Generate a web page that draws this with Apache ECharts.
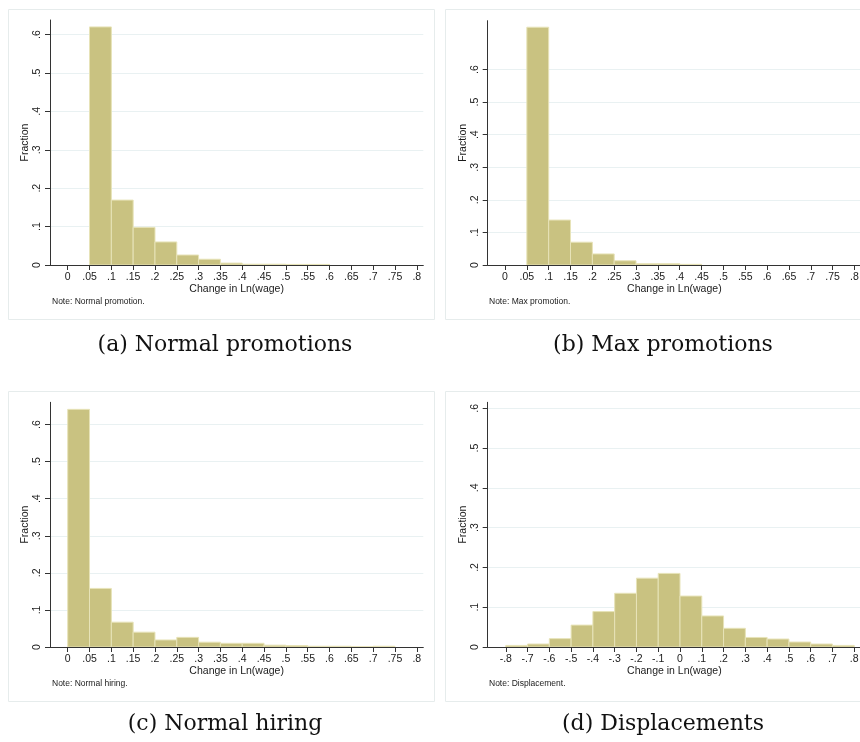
<!DOCTYPE html>
<html><head><meta charset="utf-8">
<script src="https://cdn.jsdelivr.net/npm/echarts@6/dist/echarts.min.js"></script>
<style>html,body{margin:0;padding:0;background:#fff}#c{width:860px;height:742px}</style>
</head><body><div id="c"></div>
<script>
// ---------- data ----------
// (a) Normal promotions
const binWidthA = 0.05;
const leftEdgesA = [0.05, 0.10, 0.15, 0.20, 0.25, 0.30, 0.35, 0.40, 0.45, 0.50, 0.55];
const fractionA  = [0.620, 0.169, 0.098, 0.060, 0.026, 0.015, 0.005, 0.002, 0.002, 0.0015, 0.0015];
// (b) Max promotions
const binWidthB = 0.05;
const leftEdgesB = [0.05, 0.10, 0.15, 0.20, 0.25, 0.30, 0.35, 0.40];
const fractionB  = [0.730, 0.138, 0.070, 0.034, 0.013, 0.004, 0.004, 0.002];
// (c) Normal hiring
const binWidthC = 0.05;
const leftEdgesC = [0.00, 0.05, 0.10, 0.15, 0.20, 0.25, 0.30, 0.35, 0.40, 0.45, 0.50, 0.55, 0.60, 0.65, 0.70];
const fractionC  = [0.641, 0.158, 0.067, 0.040, 0.019, 0.026, 0.013, 0.010, 0.010, 0.005, 0.004, 0.002, 0.002, 0.001, 0.002];
// (d) Displacements
const binWidthD = 0.1;
const leftEdgesD = [-0.8, -0.7, -0.6, -0.5, -0.4, -0.3, -0.2, -0.1, 0.0, 0.1, 0.2, 0.3, 0.4, 0.5, 0.6, 0.7];
const fractionD  = [0.004, 0.0075, 0.021, 0.055, 0.089, 0.135, 0.173, 0.185, 0.128, 0.078, 0.047, 0.024, 0.020, 0.0125, 0.0075, 0.004];

// tick values
const xTicksPos = [0, 0.05, 0.1, 0.15, 0.2, 0.25, 0.3, 0.35, 0.4, 0.45, 0.5, 0.55, 0.6, 0.65, 0.7, 0.75, 0.8];
const xTicksD   = [-0.8, -0.7, -0.6, -0.5, -0.4, -0.3, -0.2, -0.1, 0, 0.1, 0.2, 0.3, 0.4, 0.5, 0.6, 0.7, 0.8];
const yTicks    = [0, 0.1, 0.2, 0.3, 0.4, 0.5, 0.6];

const notes    = ['Note: Normal promotion.', 'Note: Max promotion.', 'Note: Normal hiring.', 'Note: Displacement.'];
const captions = ['(a) Normal promotions', '(b) Max promotions', '(c) Normal hiring', '(d) Displacements'];
const xTitle = 'Change in Ln(wage)';
const yTitle = 'Fraction';

// ---------- layout ----------
const panels = [
  { edges: leftEdgesA, vals: fractionA, w: binWidthA, xt: xTicksPos, xmin: -0.0406, xmax: 0.815, ymax: 0.638,
    grid: { left: 50, top: 20, width: 373.3, height: 245 }, frame: [8, 9, 426, 310], note: [52, 302], cap: [225, 345] },
  { edges: leftEdgesB, vals: fractionB, w: binWidthB, xt: xTicksPos, xmin: -0.0396, xmax: 0.815, ymax: 0.750,
    grid: { left: 487.7, top: 20.7, width: 373.3, height: 244.3 }, frame: [445, 9, 420, 310], note: [489, 302], cap: [663, 345] },
  { edges: leftEdgesC, vals: fractionC, w: binWidthC, xt: xTicksPos, xmin: -0.0406, xmax: 0.815, ymax: 0.660,
    grid: { left: 50, top: 402.3, width: 373.3, height: 244.7 }, frame: [8, 391, 426, 310], note: [52, 684], cap: [225, 724] },
  { edges: leftEdgesD, vals: fractionD, w: binWidthD, xt: xTicksD, xmin: -0.883, xmax: 0.831, ymax: 0.615,
    grid: { left: 487.7, top: 402.3, width: 373.3, height: 244.7 }, frame: [445, 391, 420, 310], note: [489, 684], cap: [663, 724] }
];

const fmt = v => {
  let s = String(Math.round(v * 100) / 100);
  return s.replace(/^(-?)0\./, '$1.');
};
const axisFont = 'Liberation Sans, Arial, sans-serif';
const axisColor = '#1a1a1a';

const option = {
  animation: false,
  backgroundColor: '#fff',
  grid: [], xAxis: [], yAxis: [], series: [], graphic: []
};

panels.forEach((p, i) => {
  option.grid.push(Object.assign({ outerBoundsMode: 'none', containLabel: false }, p.grid));
  option.xAxis.push({
    type: 'value', gridIndex: i, min: p.xmin, max: p.xmax,
    name: xTitle, nameLocation: 'middle', nameGap: 18,
    nameTextStyle: { fontFamily: axisFont, fontSize: 10.5, color: axisColor },
    axisLine: { show: true, onZero: false, lineStyle: { color: '#333', width: 1 } },
    axisTick: { show: true, length: 5, customValues: p.xt, lineStyle: { color: '#333' } },
    axisLabel: { customValues: p.xt, formatter: fmt, margin: 7, fontFamily: axisFont, fontSize: 10.5, color: axisColor,
                 showMinLabel: true, showMaxLabel: true, hideOverlap: false },
    splitLine: { show: false }
  });
  option.yAxis.push({
    type: 'value', gridIndex: i, min: 0, max: p.ymax,
    name: yTitle, nameLocation: 'middle', nameGap: 18, nameRotate: 90,
    nameTextStyle: { fontFamily: axisFont, fontSize: 10.5, color: axisColor },
    axisLine: { show: true, onZero: false, lineStyle: { color: '#333', width: 1 } },
    axisTick: { show: true, length: 5, customValues: yTicks, lineStyle: { color: '#333' } },
    axisLabel: { customValues: yTicks, formatter: fmt, rotate: 90, margin: 7, fontFamily: axisFont, fontSize: 10.5, color: axisColor },
    splitLine: { show: true, lineStyle: { color: '#e9f1f2', width: 1 } }
  });
  const data = p.edges.map((e, k) => [e, e + p.w, p.vals[k]]);
  option.series.push({
    type: 'custom', xAxisIndex: i, yAxisIndex: i, clip: true,
    encode: { x: [0, 1], y: 2 },
    data: data,
    renderItem: (params, api) => {
      const a = api.coord([api.value(0), api.value(2)]);
      const b = api.coord([api.value(1), 0]);
      return {
        type: 'rect',
        shape: { x: a[0], y: a[1], width: b[0] - a[0], height: b[1] - a[1] },
        style: { fill: '#c9c281', stroke: '#e7e3b8', lineWidth: 1 }
      };
    }
  });
  option.graphic.push({
    type: 'rect', silent: true, z: -1,
    shape: { x: p.frame[0] + 0.5, y: p.frame[1] + 0.5, width: p.frame[2], height: p.frame[3] },
    style: { fill: 'none', stroke: '#e6ecec', lineWidth: 1 }
  });
  option.graphic.push({
    type: 'text', silent: true, x: p.note[0], y: p.note[1],
    style: { text: notes[i], font: '8.5px Liberation Sans, Arial, sans-serif', fill: '#1a1a1a',
             textAlign: 'left', textVerticalAlign: 'middle' }
  });
  option.graphic.push({
    type: 'text', silent: true, x: p.cap[0], y: p.cap[1],
    style: { text: captions[i], font: '22px DejaVu Serif, serif', fill: '#111',
             textAlign: 'center', textVerticalAlign: 'middle' }
  });
});

const chart = echarts.init(document.getElementById('c'), null, { renderer: 'canvas', width: 860, height: 742 });
chart.setOption(option);
</script>
</body></html>
